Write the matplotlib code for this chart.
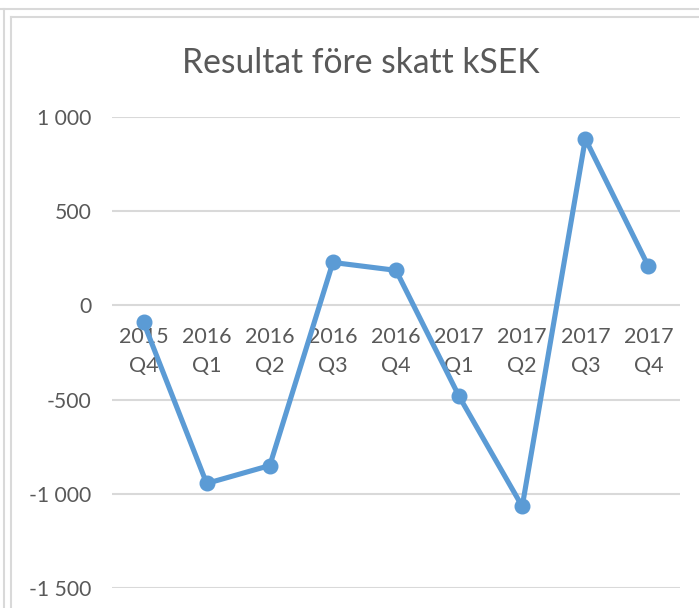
import matplotlib.pyplot as plt
from matplotlib.lines import Line2D
from matplotlib.ticker import FuncFormatter

quarters = ['2015\nQ4', '2016\nQ1', '2016\nQ2', '2016\nQ3', '2016\nQ4',
            '2017\nQ1', '2017\nQ2', '2017\nQ3', '2017\nQ4']
result_ksek = [-90, -945, -850, 228, 186, -483, -1067, 884, 207]
y_ticks = [-1500, -1000, -500, 0, 500, 1000]

W, H = 699, 608
fig = plt.figure(figsize=(W / 100, H / 100), dpi=100)
fig.patch.set_facecolor('white')

# frame lines around the chart (sheet/chart borders)
grey = '#D9D9D9'
fig.add_artist(Line2D([0, 1], [1 - 9 / H, 1 - 9 / H], color=grey, lw=1.5))
fig.add_artist(Line2D([3.5 / W, 3.5 / W], [0, 1 - 9 / H], color=grey, lw=1.5))
fig.add_artist(Line2D([11 / W, 1], [1 - 17 / H, 1 - 17 / H], color=grey, lw=1.5))
fig.add_artist(Line2D([11 / W, 11 / W], [0, 1 - 17 / H], color=grey, lw=1.5))

ax = fig.add_axes([112 / W, 20 / H, 568 / W, 471 / H])
x = list(range(len(quarters)))
ax.plot(x, result_ksek, color='#5B9BD5', lw=3.7, marker='o', markersize=10.5,
        solid_capstyle='round', zorder=3)

ax.set_xlim(-0.5, len(quarters) - 0.5)
ax.set_ylim(y_ticks[0], y_ticks[-1])
ax.set_yticks(y_ticks)
ax.yaxis.set_major_formatter(FuncFormatter(lambda v, p: f'{int(v):,}'.replace(',', ' ')))
ax.grid(axis='y', color=grey, lw=1.5, zorder=0)
ax.set_axisbelow(True)
ax.set_xticks([])
for s in ax.spines.values():
    s.set_visible(False)
ax.tick_params(axis='y', length=0, colors='#595959', labelsize=15.2, pad=15)
for lab in ax.get_yticklabels():
    lab.set_fontfamily('Lato')

# category labels sit under the zero line, like Excel's axis crossing at 0
for i, q in enumerate(quarters):
    ax.annotate(q, xy=(i, 0), xytext=(0, -33), textcoords='offset points',
                ha='center', va='center', fontsize=15.5, color='#595959',
                family='Lato', linespacing=1.55, zorder=2)

fig.text(361 / W, 1 - 63 / H, 'Resultat före skatt kSEK', ha='center', va='center',
         fontsize=24.2, color='#595959', family='Lato')

fig.savefig('out.png', dpi=100)
